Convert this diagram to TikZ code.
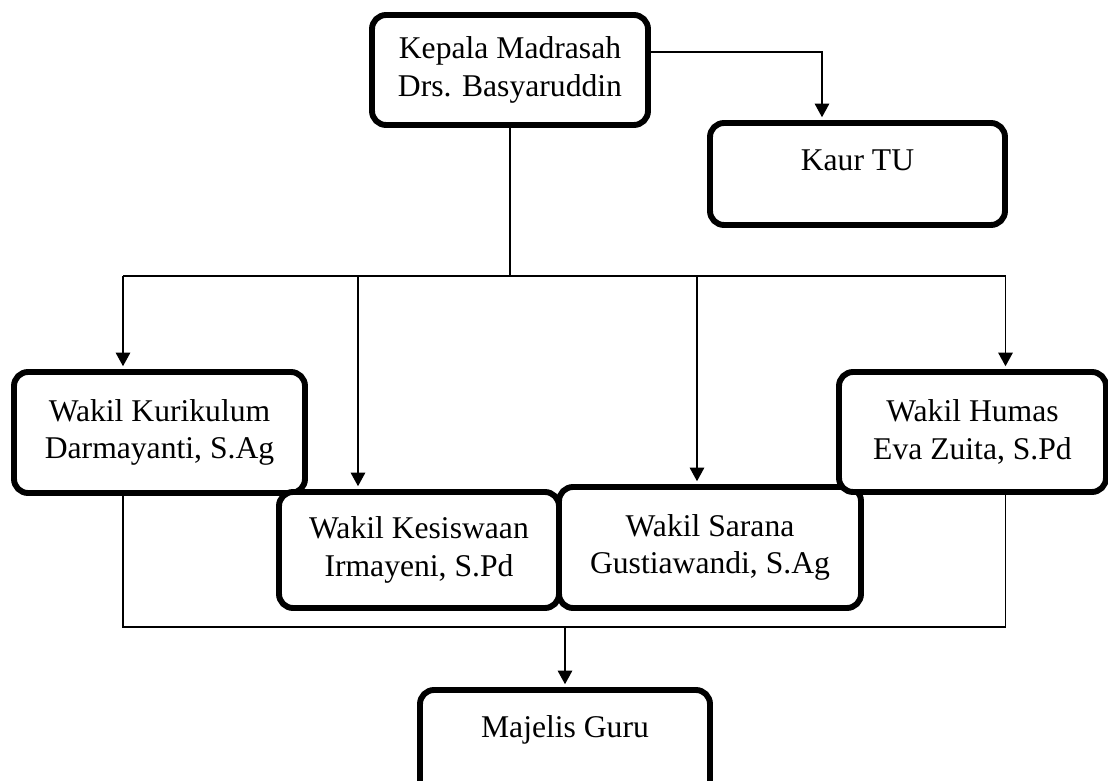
\documentclass[tikz,border=0pt]{standalone}
\usepackage{fontspec}
\setmainfont{Liberation Serif}
\usetikzlibrary{arrows.meta,calc}

\tikzset{
  kotak/.style={draw=black, fill=white, line width=4.2pt, rounded corners=10pt,
    align=center, inner sep=0pt, font=\fontsize{22.5}{26.5}\selectfont},
  garis/.style={line width=1.3pt},
  panah/.style={line width=1.3pt, -{Triangle[length=0.34cm,width=0.36cm]}, shorten >=2pt}
}

\begin{document}
\begin{tikzpicture}
			%%%%% START %%%%%
			
			\useasboundingbox (0, 0) rectangle (27.7, -19.525);
			\clip (0, 0) rectangle (27.7, -19.525);
			
			\node[kotak, minimum width=6.9cm, minimum height=2.75cm] (kepala) at (12.75, -1.75) {Kepala Madrasah\\Drs. Basyaruddin};
			\node[kotak, minimum width=7.375cm, text height=1.2cm, text depth=1.35cm] (kaur) at (21.4375, -4.35) {Kaur TU};
			
			\node[kotak, minimum width=7.275cm, minimum height=3.025cm] (kurikulum) at (3.9875, -10.8125) {Wakil Kurikulum\\Darmayanti, S.Ag};
			\node[kotak, minimum width=7.0cm, minimum height=2.9cm] (kesiswaan) at (10.475, -13.75) {Wakil Kesiswaan\\Irmayeni, S.Pd};
			\node[kotak, minimum width=7.55cm, minimum height=3.025cm] (sarana) at (17.75, -13.6875) {Wakil Sarana\\Gustiawandi, S.Ag};
			\node[kotak, minimum width=6.675cm, minimum height=3.0cm] (humas) at (24.3125, -10.8) {Wakil Humas\\Eva Zuita, S.Pd};
			
			\node[kotak, minimum width=7.25cm, text height=1.175cm, text depth=1.575cm] (majelis) at (14.125, -18.625) {Majelis Guru};
			
			% titik masuk panah
			\coordinate (kur-in) at ([xshift=-0.9125cm]kurikulum.north);
			\coordinate (kes-in) at ([xshift=-1.525cm]kesiswaan.north);
			\coordinate (sar-in) at ([xshift=-0.325cm]sarana.north);
			\coordinate (hum-in) at ([xshift=0.825cm]humas.north);
			\coordinate (cabang) at (12.75, -6.9);
			\coordinate (gabung) at (14.125, -15.675);
			
			\draw[panah] ([yshift=0.45cm]kepala.east) -| ([xshift=-0.8875cm]kaur.north);
			
			\draw[garis] (kepala.south) -- (cabang);
			\draw[garis] (cabang -| kur-in) -- (cabang -| hum-in);
			\foreach \t in {kur, kes, sar, hum}
				\draw[panah] (cabang -| \t-in) -- (\t-in);
			
			\draw[garis] (kurikulum.south -| kur-in) -- (gabung -| kur-in) -- (gabung -| hum-in) -- (humas.south -| hum-in);
			\draw[panah] (gabung) -- (majelis.north);
			
			%%%%% END %%%%%
\end{tikzpicture}
\end{document}
